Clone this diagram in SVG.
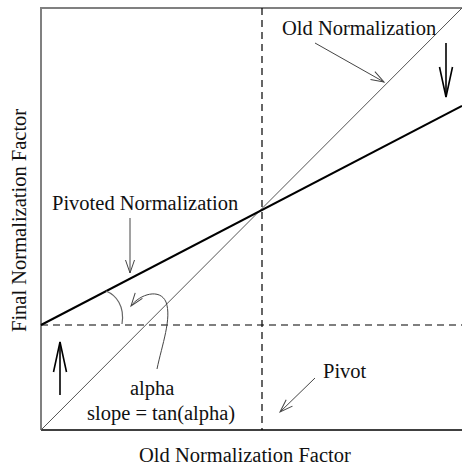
<svg xmlns="http://www.w3.org/2000/svg" width="462" height="467" viewBox="0 0 462 467">
<style>
text{font-family:"Liberation Serif","Times New Roman",serif;font-size:20.5px;fill:#111}
.frame{stroke:#808080;stroke-width:2;fill:none}
.dash{stroke:#000;stroke-width:1.2;stroke-dasharray:7 5;fill:none}
.thin{stroke:#444;stroke-width:1;fill:none}
.big{stroke:#000;stroke-width:1.6;fill:none}
</style>
<defs>
<marker id="bigHead" markerUnits="userSpaceOnUse" viewBox="-2 -9 34 18" refX="30" refY="0" markerWidth="34" markerHeight="18" orient="auto">
<path d="M0,-6.5 L30,0 L0,6.5" fill="none" stroke="#000" stroke-width="1.6"/>
</marker>
<marker id="smallHead" markerUnits="userSpaceOnUse" viewBox="-2 -7 17 14" refX="13" refY="0" markerWidth="17" markerHeight="14" orient="auto">
<path d="M0,-4.5 L13,0 L0,4.5" fill="none" stroke="#444" stroke-width="1"/>
</marker>
</defs>
<g id="axes">
<path class="frame" d="M41,430 L41,8 L462,8"/>
<line x1="41" y1="430" x2="462" y2="430" stroke="#000" stroke-width="1.5"/>
<line class="dash" x1="262" y1="8" x2="262" y2="430"/>
<line class="dash" x1="41" y1="325" x2="462" y2="325"/>
</g>
<g id="old-line">
<line x1="41" y1="430" x2="462" y2="8" stroke="#555" stroke-width="1"/>
</g>
<g id="pivoted-line">
<line x1="41" y1="325" x2="462" y2="105.9" stroke="#000" stroke-width="2"/>
</g>
<g id="angle">
<path d="M106,291 C116,295 125,306 122,324" stroke="#666" stroke-width="1.2" fill="none"/>
</g>
<g id="connectors">
<line class="big" x1="446" y1="43" x2="446" y2="97" marker-end="url(#bigHead)"/>
<line class="big" x1="60" y1="395" x2="60" y2="342" marker-end="url(#bigHead)"/>
<line class="thin" x1="130" y1="218" x2="130" y2="273" marker-end="url(#smallHead)"/>
<line class="thin" x1="315" y1="43" x2="384" y2="82" marker-end="url(#smallHead)"/>
<line class="thin" x1="315" y1="378" x2="280" y2="412" marker-end="url(#smallHead)"/>
<path class="thin" d="M157,369 C162,345 172,318 166,302 C160,288 140,294 131,306" marker-end="url(#smallHead)"/>
</g>
<g id="labels">
<text x="282" y="35">Old Normalization</text>
<text x="52" y="210">Pivoted Normalization</text>
<text x="130" y="395">alpha</text>
<text x="87" y="420">slope = tan(alpha)</text>
<text x="323" y="378">Pivot</text>
<text x="139" y="462">Old Normalization Factor</text>
<text transform="translate(26,332) rotate(-90)">Final Normalization Factor</text>
</g>
</svg>
